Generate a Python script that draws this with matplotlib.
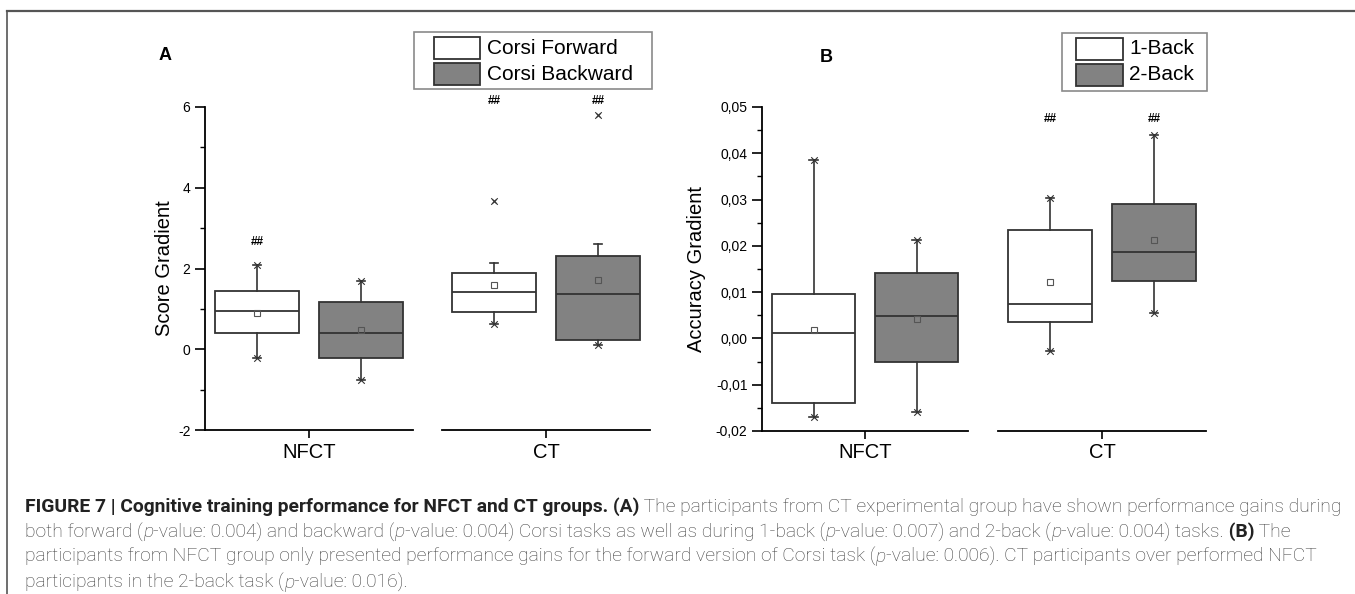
import numpy as np
import matplotlib
import matplotlib.pyplot as plt
from matplotlib.patches import Rectangle
from matplotlib.lines import Line2D
from matplotlib.ticker import FuncFormatter, MultipleLocator

plt.rcParams['font.family'] = ['Liberation Sans', 'DejaVu Sans']

W, H = 1355, 594

groups = ["NFCT", "CT"]

# box stats per group: [whisker low, q1, median, q3, whisker high, mean]
corsi_labels = ["Corsi Forward", "Corsi Backward"]
corsi_fwd = [[-0.22, 0.40, 0.94, 1.44, 2.08, 0.91],
             [0.62, 0.92, 1.41, 1.90, 2.13, 1.58]]
corsi_bwd = [[-0.75, -0.22, 0.40, 1.17, 1.68, 0.47],
             [0.10, 0.22, 1.36, 2.30, 2.60, 1.71]]
corsi_fwd_out = [[], [3.66]]
corsi_bwd_out = [[], [5.79]]
corsi_sig = [["##", ""], ["##", "##"]]
corsi_sig_y = [[2.65, 0], [6.14, 6.14]]

nback_labels = ["1-Back", "2-Back"]
nback_1 = [[-0.0169, -0.0139, 0.0011, 0.0097, 0.0385, 0.0019],
           [-0.0028, 0.0035, 0.0074, 0.0234, 0.0303, 0.0121]]
nback_2 = [[-0.0158, -0.0050, 0.0048, 0.0141, 0.0212, 0.0041],
           [0.0054, 0.0123, 0.0186, 0.0290, 0.0439, 0.0212]]
nback_1_out = [[], []]
nback_2_out = [[], []]
nback_sig = [["", ""], ["##", "##"]]
nback_sig_y = [[0, 0], [0.0474, 0.0474]]

fills = ["white", "#828282"]
line_c = "#333333"


def px_axes(fig, x0, x1, ytop, ybot):
    return fig.add_axes([x0 / W, 1 - ybot / H, (x1 - x0) / W, (ybot - ytop) / H])


def draw_group(ax, g, series, outs, sig, sig_y):
    for s in range(2):
        lo, q1, med, q3, hi, mean = series[s][g]
        pos = -0.5 + s
        st = dict(whislo=lo, q1=q1, med=med, q3=q3, whishi=hi, mean=mean, fliers=outs[s][g])
        ax.bxp([st], positions=[pos], widths=0.8, showmeans=True, patch_artist=True,
               capwidths=0.08, manage_ticks=False,
               boxprops=dict(facecolor=fills[s], edgecolor=line_c, lw=1.3),
               medianprops=dict(color=line_c, lw=1.3),
               whiskerprops=dict(color=line_c, lw=1.2),
               capprops=dict(color=line_c, lw=1.2),
               meanprops=dict(marker='s', markersize=4, markerfacecolor='none',
                              markeredgecolor='#555555', markeredgewidth=0.8),
               flierprops=dict(marker='x', markersize=3.5, markeredgecolor='#444444',
                               markeredgewidth=0.8))
        vals = [lo, hi] + list(outs[s][g])
        ax.scatter([pos, pos], [min(vals), max(vals)], marker='x', s=22,
                   color=line_c, lw=0.8, zorder=4)
        if sig[g][s]:
            ax.text(pos, sig_y[g][s], sig[g][s], ha='center', va='center',
                    fontsize=8.5, fontweight='bold', clip_on=False)


def style_axes(ax, g, ylim, major, minor, fmt):
    ax.set_xlim(-1, 1)
    ax.set_ylim(*ylim)
    ax.spines['top'].set_visible(False)
    ax.spines['right'].set_visible(False)
    ax.spines['bottom'].set_linewidth(1.3)
    ax.set_xticks([0])
    ax.set_xticklabels([groups[g]], fontsize=14.5)
    ax.tick_params(axis='x', length=6, width=1.2, pad=3)
    ax.yaxis.set_major_locator(MultipleLocator(major))
    ax.yaxis.set_minor_locator(MultipleLocator(minor))
    ax.yaxis.set_major_formatter(FuncFormatter(fmt))
    if g == 0:
        ax.spines['left'].set_linewidth(1.3)
        ax.tick_params(axis='y', which='major', length=7, width=1.2, labelsize=10)
        ax.tick_params(axis='y', which='minor', length=3.5, width=1.0)
    else:
        ax.spines['left'].set_visible(False)
        ax.tick_params(axis='y', which='both', left=False, labelleft=False)


def draw_legend(fig, box, patch_x, text_x, rows_y, labels):
    x0, y0, x1, y1 = box
    fig.add_artist(Rectangle((x0 / W, 1 - y1 / H), (x1 - x0) / W, (y1 - y0) / H,
                             transform=fig.transFigure, fill=False,
                             edgecolor='#8a8a8a', lw=1.2))
    for yc, lab, col in zip(rows_y, labels, fills):
        fig.add_artist(Rectangle((patch_x[0] / W, 1 - (yc + 11) / H),
                                 (patch_x[1] - patch_x[0]) / W, 22 / H,
                                 transform=fig.transFigure, facecolor=col,
                                 edgecolor=line_c, lw=1.3))
        fig.text(text_x / W, 1 - yc / H, lab, fontsize=15, va='center', ha='left')


fmtA = lambda v, p: f"{v:g}"
fmtB = lambda v, p: f"{round(v, 4) + 0.0:.2f}".replace('.', ',')

fig = plt.figure(figsize=(W / 100, H / 100), dpi=100)

# panel A
axA = [px_axes(fig, 205, 413, 107, 430), px_axes(fig, 442, 650, 107, 430)]
for g, ax in enumerate(axA):
    draw_group(ax, g, [corsi_fwd, corsi_bwd], [corsi_fwd_out, corsi_bwd_out], corsi_sig, corsi_sig_y)
    style_axes(ax, g, (-2, 6), 2, 1, fmtA)
axA[0].set_ylabel("Score Gradient", fontsize=14.5, labelpad=3)

# panel B
axB = [px_axes(fig, 762, 968, 107, 431), px_axes(fig, 998, 1206, 107, 431)]
for g, ax in enumerate(axB):
    draw_group(ax, g, [nback_1, nback_2], [nback_1_out, nback_2_out], nback_sig, nback_sig_y)
    style_axes(ax, g, (-0.02, 0.05), 0.01, 0.005, fmtB)
axB[0].set_ylabel("Accuracy Gradient", fontsize=14.5, labelpad=7)

draw_legend(fig, (414, 32, 652, 89), (434, 480), 487, (48, 74), corsi_labels)
draw_legend(fig, (1062, 33, 1207, 91), (1076, 1123), 1129, (49, 75), nback_labels)

fig.text(165 / W, 1 - 55 / H, "A", fontsize=13, fontweight='bold', ha='center', va='center')
fig.text(826 / W, 1 - 57 / H, "B", fontsize=13, fontweight='bold', ha='center', va='center')

# frame around figure + caption
fig.add_artist(Line2D([7 / W, 1], [1 - 11 / H, 1 - 11 / H], transform=fig.transFigure,
                      color='#555555', lw=1.6))
fig.add_artist(Line2D([7 / W, 7 / W], [1 - 11 / H, 0], transform=fig.transFigure,
                      color='#555555', lw=1.2))

caption = [
    [("FIGURE 7 | Cognitive training performance for NFCT and CT groups. (A)", 'b'),
     (" The participants from CT experimental group have shown performance gains during", 'n')],
    [("both forward (", 'n'), ("p", 'i'), ("-value: 0.004) and backward (", 'n'), ("p", 'i'),
     ("-value: 0.004) Corsi tasks as well as during 1-back (", 'n'), ("p", 'i'),
     ("-value: 0.007) and 2-back (", 'n'), ("p", 'i'), ("-value: 0.004) tasks.", 'n'),
     (" (B)", 'b'), (" The", 'n')],
    [("participants from NFCT group only presented performance gains for the forward version of Corsi task (", 'n'),
     ("p", 'i'), ("-value: 0.006). CT participants over performed NFCT", 'n')],
    [("participants in the 2-back task (", 'n'), ("p", 'i'), ("-value: 0.016).", 'n')],
]
cap_y = [507, 532, 557, 583]
cap_font = ['Roboto', 'DejaVu Sans']
renderer = fig.canvas.get_renderer()


def put_line(parts, y, size, draw=True):
    x = 25
    made = []
    for txt, st in parts:
        t = fig.text(x / W, 1 - y / H, txt, fontsize=size, family=cap_font,
                     fontweight='bold' if st == 'b' else 'light',
                     fontstyle='italic' if st == 'i' else 'normal',
                     color='#222222' if st == 'b' else '#404040', ha='left', va='center')
        x += t.get_window_extent(renderer).width
        made.append(t)
    if not draw:
        for t in made:
            t.remove()
    return x


# fit caption size so that the first line spans like the reference
end = put_line(caption[0], cap_y[0], 11, draw=False)
cap_size = 11 * (1335 - 25) / (end - 25)
for parts, y in zip(caption, cap_y):
    put_line(parts, y, cap_size)

fig.savefig("out.png", dpi=100)
